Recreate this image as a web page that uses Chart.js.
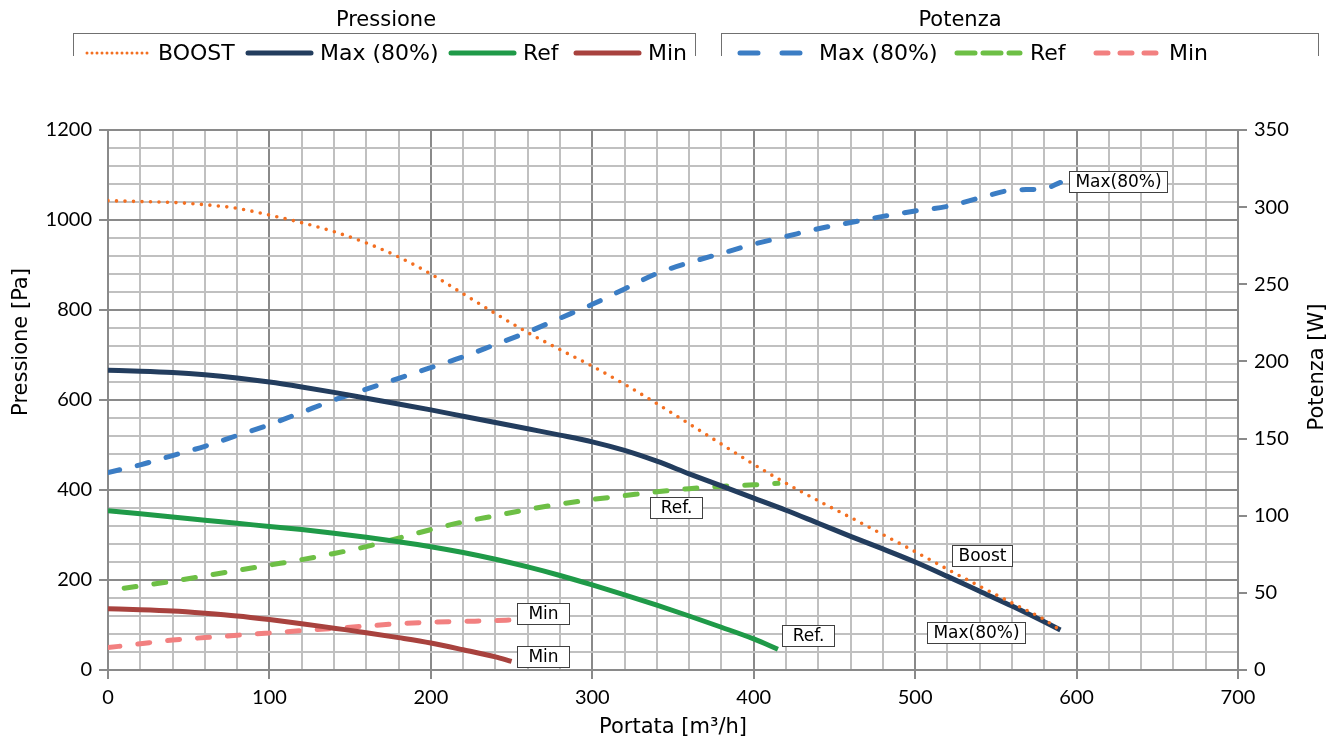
<!DOCTYPE html>
<html>
<head>
<meta charset="utf-8">
<script src="https://cdn.jsdelivr.net/npm/chart.js@4.4.1/dist/chart.umd.min.js"></script>
<style>
html,body{margin:0;padding:0;background:#fff;}
#wrap{position:relative;width:1338px;height:742px;overflow:hidden;}
#c{position:absolute;left:0;top:0;}
.lgtitle{position:absolute;font-family:"DejaVu Sans",sans-serif;font-size:21px;line-height:22px;color:#000;white-space:nowrap;transform:translateX(-50%);}
.lgbox{position:absolute;border:1px solid #707070;border-bottom:none;height:22px;}
.lgtext{position:absolute;font-family:"DejaVu Sans",sans-serif;font-size:22px;line-height:24px;color:#000;white-space:nowrap;}
.lgsample{position:absolute;}
</style>
</head>
<body>
<div id="wrap">
<canvas id="c" width="1338" height="742"></canvas>
<div id="legend"></div>
</div>
<script>
// ---------- data ----------
const flowMax = [0,20,40,60,80,100,120,140,160,180,200,220,240,260,280,300,320,340,360,380,400,420,440,460,480,500,520,540,560,580,590];
const boostPressure = [1043,1041,1039,1034,1026,1011,994,974,949,918,880,836,792,750,712,675,635,592,547,502,457,415,376,339,301,263,224,186,149,112,88];
const maxPressure = [666,664,661,656,649,640,629,617,604,591,578,564,550,536,522,507,488,464,436,409,382,355,326,297,269,240,208,175,142,107,89];
const maxPower = [128,133,139,145,152,159,167,175,182,189,196,203,211,219,228,237,247,257,264,270,276,281,286,290,294,297.5,300.5,306,311,312,316];

const flowRef = [0,20,40,60,80,100,120,140,160,180,200,220,240,260,280,300,320,340,360,380,400,415];
const refPressure = [354,347,340,333,326,319,312,304,295,285,274,261,246,229,210,189,167,144,120,95,69,46];
const flowRefPower = [10,20,40,60,80,100,120,140,160,180,200,220,240,260,280,300,320,340,360,380,400,415];
const refPower = [53,54.5,57.5,61,64.5,68,71.5,75.5,80,85.5,91,96,100,104,107.5,110.5,113,115.5,117.5,119,120,121];

const flowMin = [0,20,40,60,80,100,120,140,160,180,200,220,240,250];
const minPressure = [136,134,131,126,120,112,103,93,83,72,60,45,29,19];
const minPower = [14.5,17,19.4,21,22.5,24,25.5,27,28.5,30,31,31.5,32,32.4];

const xTicks = [0,100,200,300,400,500,600,700];
const yTicks = [0,200,400,600,800,1000,1200];
const y1Ticks = [0,50,100,150,200,250,300,350];

const groupTitles = ['Pressione','Potenza'];
const pressureNames = ['BOOST','Max (80%)','Ref','Min'];
const powerNames = ['Max (80%)','Ref','Min'];

const noteTexts = ['Max(80%)','Boost','Max(80%)','Ref.','Ref.','Min','Min'];
const noteFlow  = [595.3, 522.6, 507.5, 335.7, 417.3, 253.2, 253.2];
const noteValue = [316.6, 253.8, 82.9, 105.1, 76, 36.9, 28.9];
const noteAxis  = ['y1','y','y','y1','y','y1','y'];

// ---------- styles ----------
const C = {
  boost:'#f36f21', max:'#233d5e', ref:'#1f9a48', min:'#a8423e',
  maxP:'#3b7dc4', refP:'#6dbf45', minP:'#f28080'
};
const DASH = [12,18];

function pts(xs, ys){ return xs.map((x,i)=>({x:x, y:ys[i]})); }

const datasets = [
  {label:'BOOST', data:pts(flowMax,boostPressure), borderColor:C.boost, borderWidth:3.6, borderDash:[0,8.5], borderCapStyle:'round', yAxisID:'y'},
  {label:'Max (80%)', data:pts(flowMax,maxPressure), borderColor:C.max, borderWidth:5, yAxisID:'y'},
  {label:'Ref', data:pts(flowRef,refPressure), borderColor:C.ref, borderWidth:5, yAxisID:'y'},
  {label:'Min', data:pts(flowMin,minPressure), borderColor:C.min, borderWidth:5, yAxisID:'y'},
  {label:'Max (80%) W', data:pts(flowMax,maxPower), borderColor:C.maxP, borderWidth:5, borderDash:DASH, borderCapStyle:'round', yAxisID:'y1'},
  {label:'Ref W', data:pts(flowRefPower,refPower), borderColor:C.refP, borderWidth:5, borderDash:DASH, borderCapStyle:'round', yAxisID:'y1'},
  {label:'Min W', data:pts(flowMin,minPower), borderColor:C.minP, borderWidth:5, borderDash:DASH, borderCapStyle:'round', yAxisID:'y1'}
];
datasets.forEach(d=>{ d.pointRadius=0; d.fill=false; d.cubicInterpolationMode='monotone'; d.backgroundColor=d.borderColor; });

const MAJOR='#8a8a8a', MINOR='#c0c0c0';
const tickFont = {family:'Lato', size:20};

const notesPlugin = {
  id:'notes',
  afterDatasetsDraw(chart){
    const ctx = chart.ctx;
    ctx.save();
    ctx.font = '17px "DejaVu Sans"';
    noteTexts.forEach((t,i)=>{
      const x = Math.round(chart.scales.x.getPixelForValue(noteFlow[i]));
      const y = chart.scales[noteAxis[i]].getPixelForValue(noteValue[i]);
      const tw = ctx.measureText(t).width;
      const w = Math.round(Math.max(tw+12, 52));
      const h = 21;
      const top = Math.round(y - h/2);
      ctx.fillStyle = '#fff';
      ctx.fillRect(x, top, w, h);
      ctx.strokeStyle = '#404040';
      ctx.lineWidth = 1;
      ctx.strokeRect(x+0.5, top+0.5, w, h);
      ctx.fillStyle = '#000';
      ctx.textAlign = 'center';
      ctx.textBaseline = 'middle';
      ctx.fillText(t, x + w/2 + 0.5, top + h/2 + 1);
    });
    ctx.restore();
  },
  afterDraw(chart){
    const ctx = chart.ctx;
    ctx.save();
    ctx.fillStyle = '#000';
    ctx.font = '21px "DejaVu Sans"';
    ctx.textAlign = 'center';
    ctx.textBaseline = 'middle';
    ctx.fillText('Portata [m³/h]', (chart.chartArea.left+chart.chartArea.right)/2, 728);
    ctx.save();
    ctx.translate(22, 342);
    ctx.rotate(-Math.PI/2);
    ctx.fillText('Pressione [Pa]', 0, 0);
    ctx.restore();
    ctx.save();
    ctx.translate(1318, 367);
    ctx.rotate(-Math.PI/2);
    ctx.fillText('Potenza [W]', 0, 0);
    ctx.restore();
    ctx.restore();
  }
};

new Chart(document.getElementById('c'), {
  type:'line',
  data:{datasets:datasets},
  options:{
    responsive:false,
    animation:false,
    devicePixelRatio:1,
    layout:{padding:{top:130,left:0,right:0,bottom:0}},
    plugins:{legend:{display:false}, tooltip:{enabled:false}},
    scales:{
      x:{
        type:'linear', min:0, max:700,
        afterFit(s){ s.height = 72; },
        ticks:{stepSize:20, autoSkip:false, maxRotation:0, padding:7, color:'#000', font:tickFont,
          callback:v=> xTicks.includes(v) ? String(v) : ''},
        grid:{color:c=> xTicks.includes(c.tick && c.tick.value) ? MAJOR : MINOR, lineWidth:2,
          tickLength:9, tickWidth:2, tickColor:c=> xTicks.includes(c.tick && c.tick.value) ? MAJOR : 'rgba(0,0,0,0)'},
        border:{display:true, color:MAJOR, width:2}
      },
      y:{
        type:'linear', position:'left', min:0, max:1200,
        afterFit(s){ s.width = 108; },
        ticks:{stepSize:40, autoSkip:false, padding:7, color:'#000', font:tickFont,
          callback:v=> yTicks.includes(v) ? String(v) : ''},
        grid:{color:c=> yTicks.includes(c.tick && c.tick.value) ? MAJOR : MINOR, lineWidth:2,
          tickLength:9, tickWidth:2, tickColor:c=> yTicks.includes(c.tick && c.tick.value) ? MAJOR : 'rgba(0,0,0,0)'},
        border:{display:true, color:MAJOR, width:2}
      },
      y1:{
        type:'linear', position:'right', min:0, max:350,
        afterFit(s){ s.width = 100; },
        ticks:{stepSize:50, autoSkip:false, padding:7, color:'#000', font:tickFont,
          callback:v=> y1Ticks.includes(v) ? String(v) : ''},
        grid:{drawOnChartArea:false, lineWidth:2, tickLength:9, tickWidth:2, tickColor:MAJOR},
        border:{display:true, color:MAJOR, width:2}
      }
    }
  },
  plugins:[notesPlugin]
});

// ---------- HTML legend ----------
(function(){
  const L = document.getElementById('legend');
  const groups = [
    {title:groupTitles[0], cx:386, left:73, right:694,
      items:[
        {name:pressureNames[0], color:C.boost, w:3, dash:'0 5', s:84, t:158},
        {name:pressureNames[1], color:C.max, w:5, dash:'', s:244, t:320},
        {name:pressureNames[2], color:C.ref, w:5, dash:'', s:447, t:523},
        {name:pressureNames[3], color:C.min, w:5, dash:'', s:572, t:648}
      ]},
    {title:groupTitles[1], cx:960, left:721, right:1317,
      items:[
        {name:powerNames[0], color:C.maxP, w:5, dash:'18 24', s:736, t:819},
        {name:powerNames[1], color:C.refP, w:5, dash:'18 8', s:953, t:1030},
        {name:powerNames[2], color:C.minP, w:5, dash:'12 12', s:1092, t:1169}
      ]}
  ];
  groups.forEach(g=>{
    const t = document.createElement('div');
    t.className='lgtitle'; t.textContent=g.title;
    t.style.left=g.cx+'px'; t.style.top='8px';
    L.appendChild(t);
    const b = document.createElement('div');
    b.className='lgbox';
    b.style.left=g.left+'px'; b.style.top='33px'; b.style.width=(g.right-g.left)+'px';
    L.appendChild(b);
    g.items.forEach(it=>{
      const ns='http://www.w3.org/2000/svg';
      const svg=document.createElementNS(ns,'svg');
      svg.setAttribute('width','72'); svg.setAttribute('height','12');
      svg.setAttribute('class','lgsample');
      svg.style.left=it.s+'px'; svg.style.top='47px';
      const ln=document.createElementNS(ns,'line');
      ln.setAttribute('x1', it.dash==='0 5' ? '3' : '4');
      ln.setAttribute('x2','67'); ln.setAttribute('y1','6'); ln.setAttribute('y2','6');
      ln.setAttribute('stroke',it.color); ln.setAttribute('stroke-width',it.w);
      ln.setAttribute('stroke-linecap','round');
      if(it.dash) ln.setAttribute('stroke-dasharray',it.dash);
      svg.appendChild(ln);
      L.appendChild(svg);
      const tx=document.createElement('div');
      tx.className='lgtext'; tx.textContent=it.name;
      tx.style.left=it.t+'px'; tx.style.top='41px';
      L.appendChild(tx);
    });
  });
})();
</script>
</body>
</html>
